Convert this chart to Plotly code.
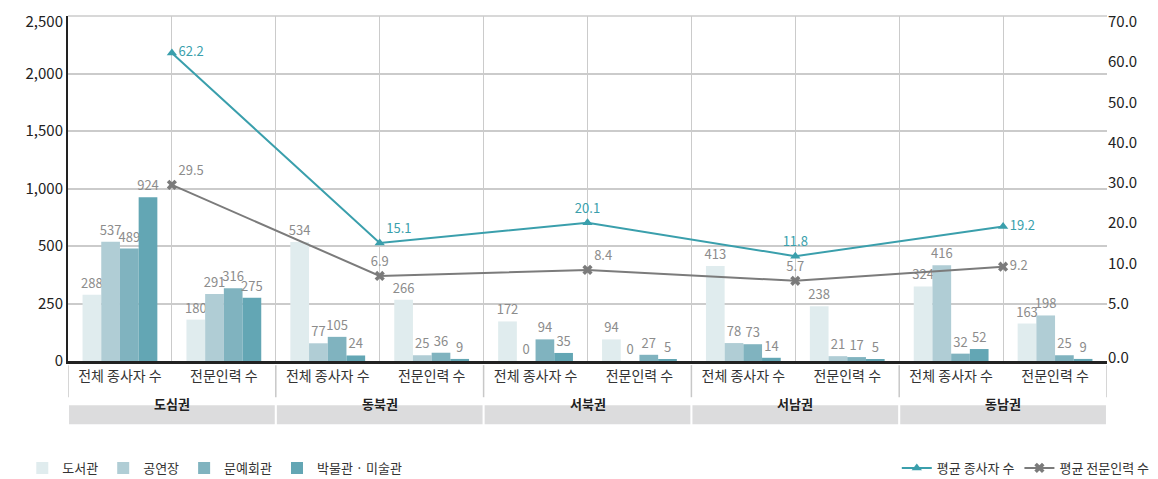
import numpy as np
import plotly.graph_objects as go

# categories
regions = ["도심권", "동북권", "서북권", "서남권", "동남권"]
measures = ["전체 종사자 수", "전문인력 수"]
facilities = ["도서관", "공연장", "문예회관", "박물관 · 미술관"]

# bar values: (region, measure) pairs in order
library = [288, 180, 534, 266, 172, 94, 413, 238, 324, 163]
hall = [537, 291, 77, 25, 0, 0, 78, 21, 416, 198]
arts_center = [489, 316, 105, 36, 94, 27, 73, 17, 32, 25]
museum = [924, 275, 24, 9, 35, 5, 14, 5, 52, 9]

# line values per region (right axis)
avg_staff = [62.2, 15.1, 20.1, 11.8, 19.2]
avg_expert = [29.5, 6.9, 8.4, 5.7, 9.2]

# left axis labels (evenly spaced in the original)
left_ticks = [0, 250, 500, 1000, 1500, 2000, 2500]
# right axis labels as printed
right_ticks = ["70.0", "60.0", "50.0", "40.0", "30.0", "20.0", "10.0", "5.0", "0.0"]

FONT = "Noto Sans CJK KR"
bar_colors = ["#e0ecee", "#b0cdd5", "#80b3bf", "#63a6b4"]
teal = "#3a9fac"
grey = "#7b7b7b"

n = len(regions) * len(measures)
slot_x = np.arange(n)
region_x = slot_x[::2] + 0.5
sub_labels = [m for _ in regions for m in measures]
level_pos = np.arange(len(left_ticks))


def left_scale(v):
    # piecewise scale matching the evenly spaced left ticks
    return np.interp(v, left_ticks, level_pos)


fig = go.Figure()

for name, vals, col in zip(facilities, [library, hall, arts_center, museum], bar_colors):
    fig.add_trace(go.Bar(
        x=slot_x, y=left_scale(vals), name=name,
        marker=dict(color=col, line=dict(width=0)),
        text=[str(v) for v in vals], textposition="outside",
        textangle=0, constraintext="none", cliponaxis=False,
        textfont=dict(color="#8c8c8c", size=13, family=FONT),
        customdata=vals, hovertemplate="%{customdata}<extra>" + name + "</extra>",
        legend="legend",
    ))

fig.add_trace(go.Scatter(
    x=region_x, y=avg_staff, name="평균 종사자 수", yaxis="y2",
    mode="lines+markers+text",
    line=dict(color=teal, width=2),
    marker=dict(symbol="triangle-up", size=9, color=teal),
    text=[f"{v:.1f}" for v in avg_staff],
    textposition=["middle right", "top right", "top center", "top center", "middle right"],
    textfont=dict(color=teal, size=13, family=FONT),
    cliponaxis=False, legend="legend2",
))
fig.add_trace(go.Scatter(
    x=region_x, y=avg_expert, name="평균 전문인력 수", yaxis="y2",
    mode="lines+markers+text",
    line=dict(color=grey, width=2),
    marker=dict(symbol="x", size=9, color=grey),
    text=[f"{v:.1f}" for v in avg_expert],
    textposition=["top right", "top center", "top right", "top center", "middle right"],
    textfont=dict(color="#8c8c8c", size=13, family=FONT),
    cliponaxis=False, legend="legend2",
))

# region bands, labels and separators under the axis
shapes = []
annotations = []
for i, r in enumerate(regions):
    x0 = 2 * i - 0.5
    shapes.append(dict(type="rect", xref="x", yref="paper",
                       x0=x0 + 0.01, x1=x0 + 2 - 0.01, y0=-0.128, y1=-0.183,
                       fillcolor="#dcdcdd", line=dict(width=0), layer="below"))
    annotations.append(dict(xref="x", yref="paper", x=region_x[i], y=-0.1555,
                            text=f"<b>{r}</b>", showarrow=False,
                            font=dict(size=13, color="#222", family=FONT)))
for i in range(len(regions) + 1):
    shapes.append(dict(type="line", xref="x", yref="paper",
                       x0=2 * i - 0.5, x1=2 * i - 0.5, y0=-0.012, y1=-0.105,
                       line=dict(color="#c8c8c8", width=1.5)))
# top border of the plot area
shapes.append(dict(type="line", xref="paper", yref="paper", x0=0, x1=1, y0=1, y1=1,
                   line=dict(color="#cbcbcb", width=1.5)))

# the top label sits a little below its gridline, as in the original
label_pos = level_pos.astype(float)
label_pos[-1] -= 0.1

# page body adds 8px, so the figure is drawn slightly smaller than the window
fig.update_layout(
    width=1150, height=471,
    margin=dict(l=60, r=51, t=8, b=118, autoexpand=False),
    plot_bgcolor="white", paper_bgcolor="white",
    font=dict(family=FONT, size=14, color="#222"),
    barmode="group", bargap=0.28, bargroupgap=0,
    showlegend=True,
    shapes=shapes, annotations=annotations,
    xaxis=dict(
        range=[-0.5, n - 0.5], tickvals=slot_x, ticktext=sub_labels,
        showgrid=False, ticks="", showline=True, linecolor="#222", linewidth=2.5,
        tickfont=dict(size=14, color="#333"), automargin=False,
        minor=dict(tickvals=np.arange(n + 1) - 0.5, showgrid=True,
                   gridcolor="#cbcbcb", gridwidth=1.3, ticks=""),
        zeroline=False,
    ),
    yaxis=dict(
        range=[0, len(left_ticks) - 1], tickvals=label_pos,
        ticktext=[f"{v:,}" for v in left_ticks], automargin=False,
        showgrid=False, ticks="",
        minor=dict(tickvals=level_pos, showgrid=True, gridcolor="#cbcbcb",
                   gridwidth=1.5, ticks=""),
        showline=True, linecolor="#222", linewidth=2,
        zeroline=False, tickfont=dict(size=15, color="#222"),
    ),
    yaxis2=dict(
        overlaying="y", side="right", range=[-14.2, 71.4], automargin=False,
        tickvals=[70, 60, 50, 40, 30, 20, 10, 0, -13.3], ticktext=right_ticks,
        showgrid=False, zeroline=False, showline=False,
        tickfont=dict(size=15, color="#222"),
    ),
    legend=dict(orientation="h", x=-0.044, xanchor="left", y=-0.31, yanchor="middle",
                font=dict(size=13, color="#333"), traceorder="normal"),
    legend2=dict(orientation="h", x=1.046, xanchor="right", y=-0.31, yanchor="middle",
                 font=dict(size=13, color="#333")),
)

fig.write_html("out.html")
